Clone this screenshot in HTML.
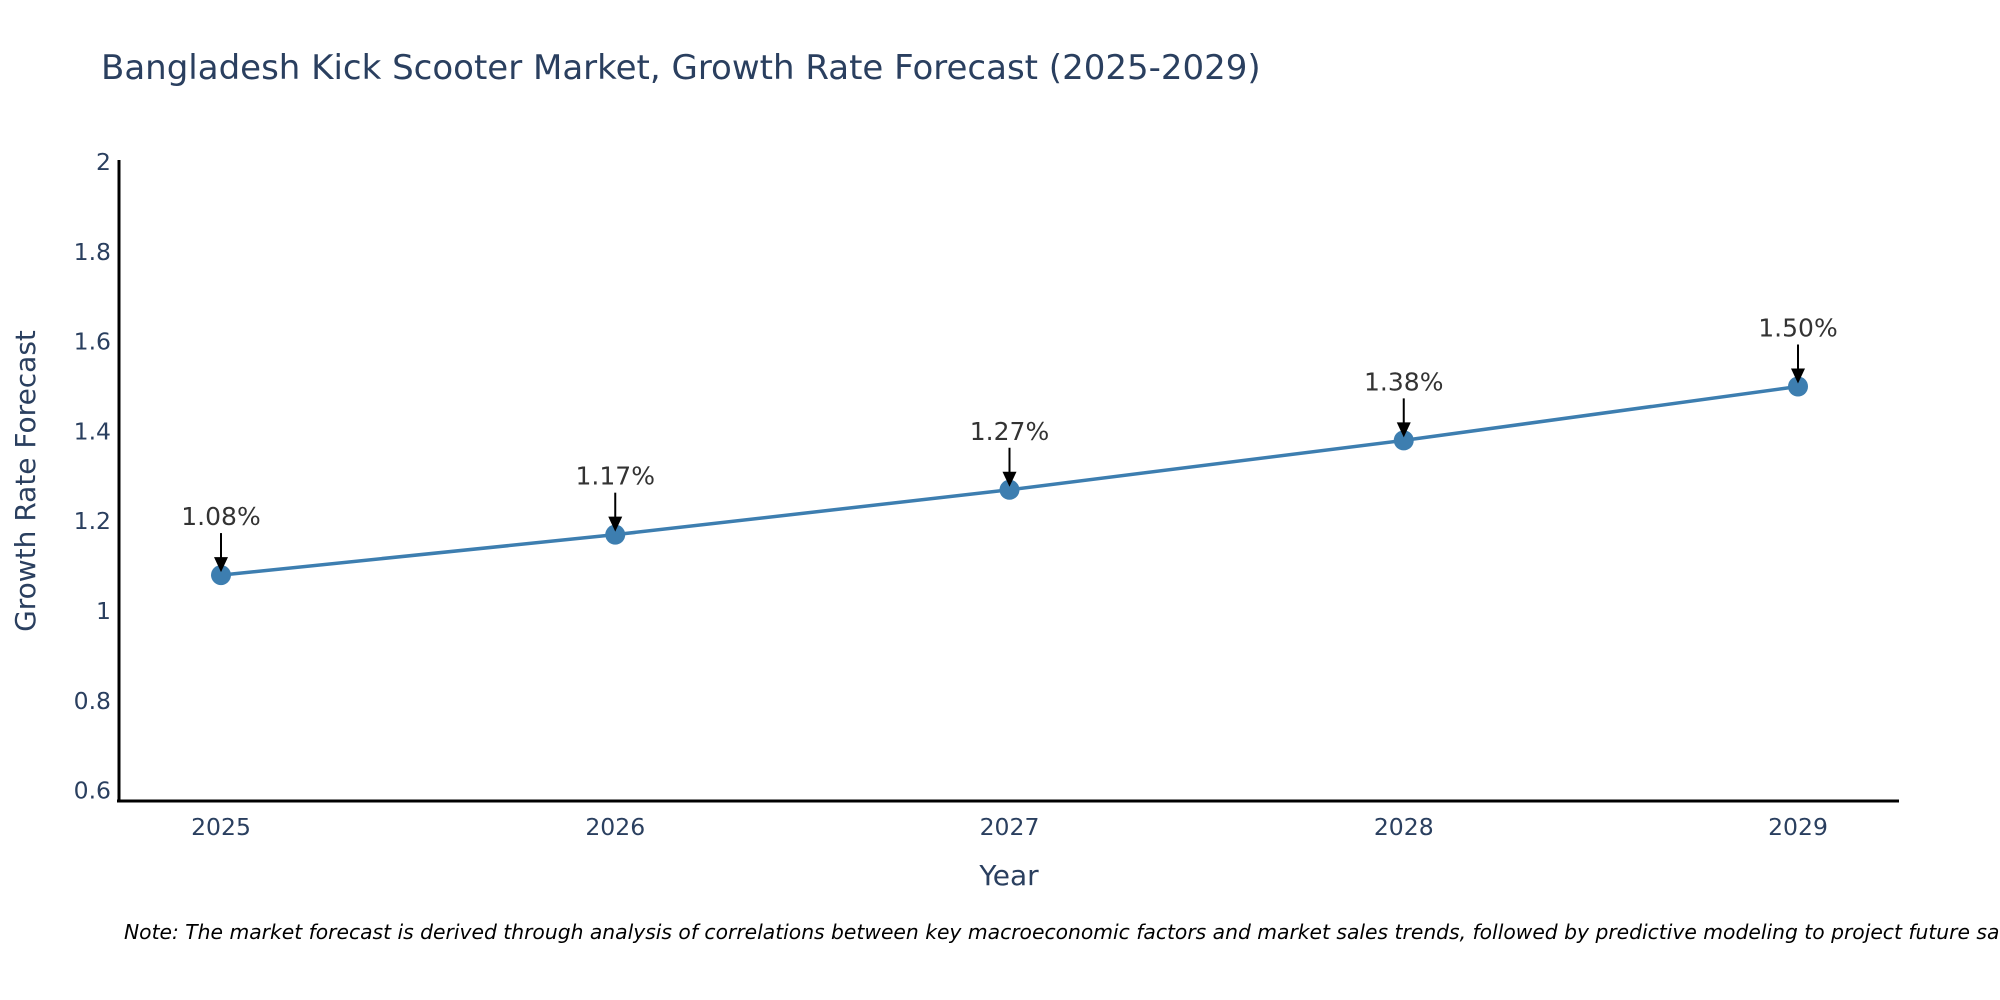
<!DOCTYPE html>
<html><head><meta charset="utf-8"><style>
html,body{margin:0;padding:0;background:#fff;width:2000px;height:1000px;overflow:hidden}
svg text{font-family:"DejaVu Sans","Liberation Sans",sans-serif;fill:#2a3f5f}
</style></head><body>
<svg id="chart" width="2000" height="1000" xmlns="http://www.w3.org/2000/svg">
<text x="101" y="79" font-size="34">Bangladesh Kick Scooter Market, Growth Rate Forecast (2025-2029)</text>
<g id="yticks"></g><g id="xticks"></g>
<line x1="119" y1="160" x2="119" y2="802" stroke="#000" stroke-width="3"/>
<line x1="117" y1="801" x2="1899" y2="801" stroke="#000" stroke-width="3"/>
<text transform="translate(35,481) rotate(-90)" text-anchor="middle" font-size="28">Growth Rate Forecast</text>
<text x="1009" y="885" text-anchor="middle" font-size="28">Year</text>
<g id="series"></g><g id="annots"></g>
<text x="124" y="939" font-size="20.3" font-style="italic" style="fill:#000">Note: The market forecast is derived through analysis of correlations between key macroeconomic factors and market sales trends, followed by predictive modeling to project future sales.</text>
</svg>
<script>
const years=["2025","2026","2027","2028","2029"];
const values=[1.08,1.17,1.27,1.38,1.50];
const labels=["1.08%","1.17%","1.27%","1.38%","1.50%"];
const yTicks=[0.6,0.8,1,1.2,1.4,1.6,1.8,2];
const yTickLabels=["0.6","0.8","1","1.2","1.4","1.6","1.8","2"];
const NS="http://www.w3.org/2000/svg";
function X(i){return 221+i*394.25;}
function Y(v){return 162+(2-v)*449;}
function mk(t,a,p){const e=document.createElementNS(NS,t);for(const k in a)e.setAttribute(k,a[k]);p.appendChild(e);return e;}
const yt=document.getElementById('yticks');
yTicks.forEach((v,i)=>{const t=mk('text',{x:111,y:Y(v)+8,'text-anchor':'end','font-size':'23.5'},yt);t.textContent=yTickLabels[i];

});
const xt=document.getElementById('xticks');
years.forEach((y,i)=>{const t=mk('text',{x:X(i),y:835,'text-anchor':'middle','font-size':'23.5'},xt);t.textContent=y;

});
const s=document.getElementById('series');
const pl=mk('polyline',{points:values.map((v,i)=>X(i)+','+Y(v)).join(' '),fill:'none',stroke:'#3d7eb0','stroke-width':'3.5'},s);


values.forEach((v,i)=>{const c=mk('circle',{cx:X(i),cy:Y(v),r:10,fill:'#3d7eb0'},s);

});
const an=document.getElementById('annots');
values.forEach((v,i)=>{const x=X(i),y=Y(v);
const t=mk('text',{x:x,y:y-50,'text-anchor':'middle','font-size':'25','style':'fill:#333'},an);t.textContent=labels[i];


const l=mk('line',{x1:x,y1:y-42,x2:x,y2:y-16,stroke:'#000','stroke-width':'2'},an);


const h=mk('polygon',{points:(x-7)+','+(y-18)+' '+(x+7)+','+(y-18)+' '+x+','+(y-3),fill:'#000'},an);

});
</script>
</body></html>
